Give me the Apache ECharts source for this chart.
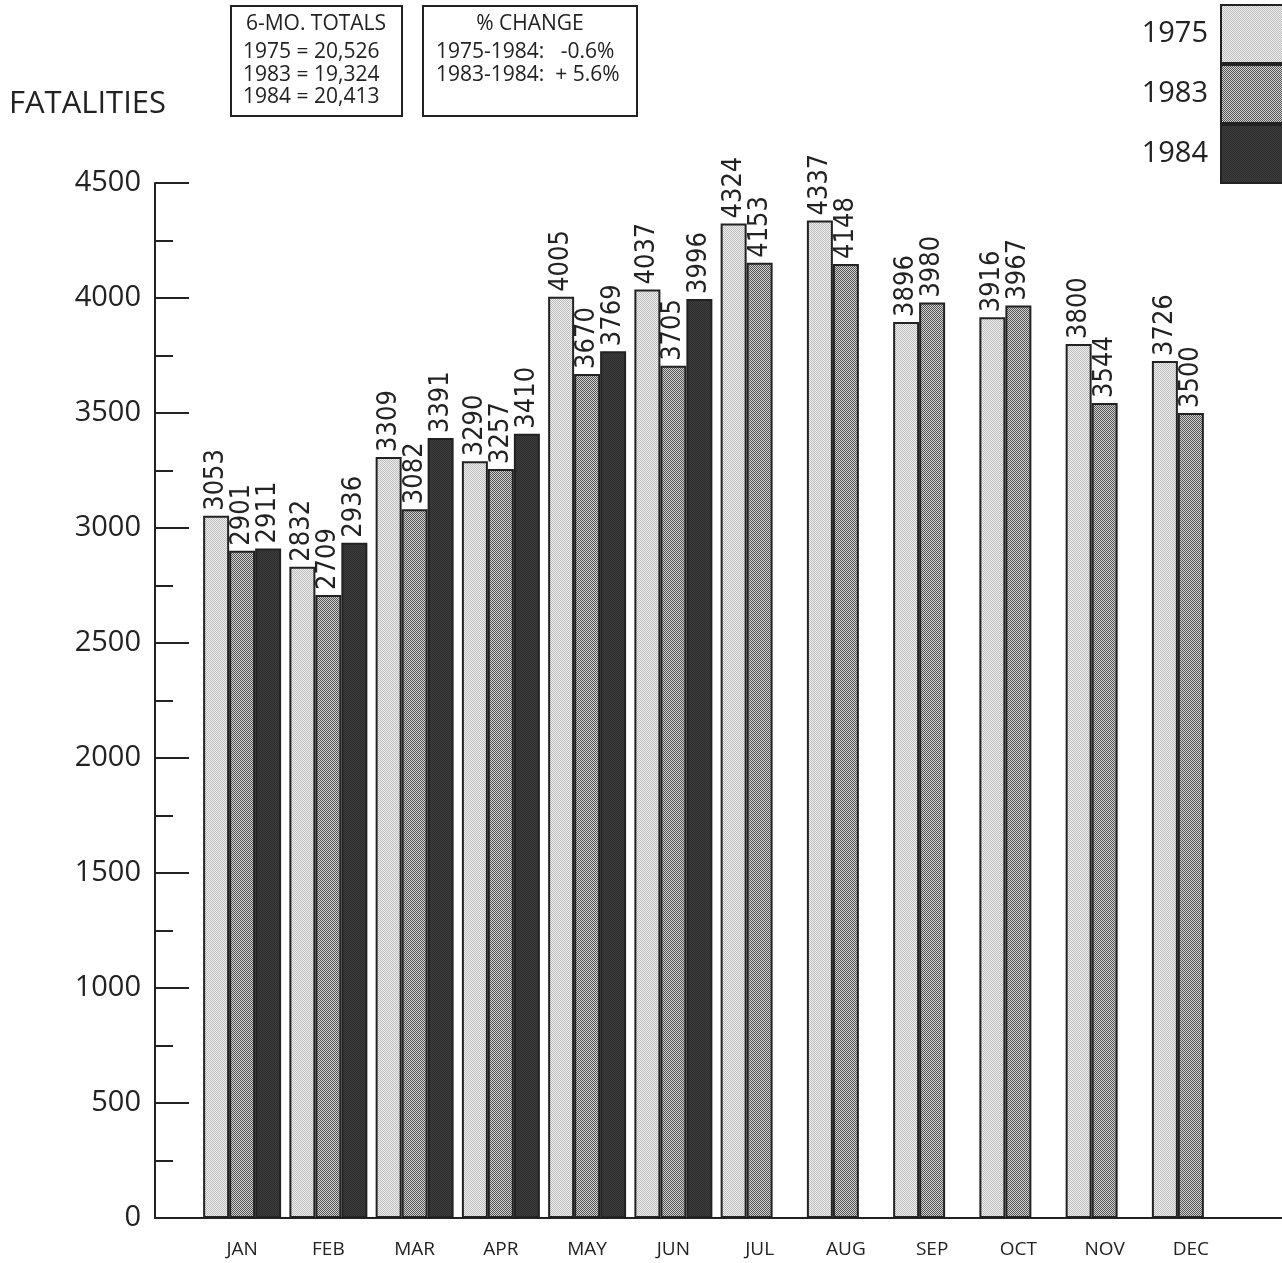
<!DOCTYPE html>
<html>
<head>
<meta charset="utf-8">
<script src="https://cdn.jsdelivr.net/npm/echarts@6/dist/echarts.min.js"></script>
<style>
  html, body { margin: 0; padding: 0; background: #fff; }
  #chart { width: 1282px; height: 1263px; }
</style>
</head>
<body>
<div id="chart"></div>
<script>
// Monthly traffic fatalities, 1975 / 1983 / 1984
const months = ['JAN', 'FEB', 'MAR', 'APR', 'MAY', 'JUN', 'JUL', 'AUG', 'SEP', 'OCT', 'NOV', 'DEC'];
const years = ['1975', '1983', '1984'];
const fatal1975 = [3053, 2832, 3309, 3290, 4005, 4037, 4324, 4337, 3896, 3916, 3800, 3726];
const fatal1983 = [2901, 2709, 3082, 3257, 3670, 3705, 4153, 4148, 3980, 3967, 3544, 3500];
const fatal1984 = [2911, 2936, 3391, 3410, 3769, 3996, null, null, null, null, null, null];
const yTicks = { min: 0, max: 4500, step: 500 };

const totalsLines = ['6-MO. TOTALS', '1975 = 20,526', '1983 = 19,324', '1984 = 20,413'];
const changeLines = ['% CHANGE', '1975-1984:   -0.6%', '1983-1984:  + 5.6%'];

// small checkerboard screens used as bar fills
function screen(a, b) {
  const c = document.createElement('canvas');
  c.width = 2; c.height = 2;
  const g = c.getContext('2d');
  g.fillStyle = a; g.fillRect(0, 0, 2, 2);
  g.fillStyle = b; g.fillRect(0, 0, 1, 1); g.fillRect(1, 1, 1, 1);
  return { image: c, repeat: 'repeat' };
}
const fills = [
  screen('#eeeeee', '#bdbdbd'),
  screen('#d0d0d0', '#555555'),
  screen('#3c3c3c', '#2e2e2e')
];
const ink = '#222222';
const textInk = '#222222';
const seriesData = [fatal1975, fatal1983, fatal1984];
const uiFont = 'Open Sans';

const chart = echarts.init(document.getElementById('chart'), null, { renderer: 'canvas' });

const plotTop = 183, plotBottom = 45;

chart.setOption({
  backgroundColor: '#ffffff',
  animation: false,
  grid: [
    { left: 155, right: 0, top: plotTop, bottom: plotBottom },
    { left: 199, width: 1035, top: plotTop, bottom: plotBottom }
  ],
  xAxis: [
    {
      gridIndex: 0, type: 'value', min: 0, max: 1,
      axisLine: { show: true, lineStyle: { color: ink, width: 2 } },
      axisTick: { show: false }, axisLabel: { show: false }, splitLine: { show: false }
    },
    {
      gridIndex: 1, type: 'category', data: months,
      axisLine: { show: false }, axisTick: { show: false },
      axisLabel: { color: textInk, fontSize: 19, fontFamily: uiFont, margin: 22 }
    }
  ],
  yAxis: [
    {
      gridIndex: 0, type: 'value', min: yTicks.min, max: yTicks.max, interval: yTicks.step,
      axisLine: { show: true, lineStyle: { color: ink, width: 2 } },
      axisTick: { show: true, inside: true, length: 34, lineStyle: { color: ink, width: 2 } },
      minorTick: { show: true, splitNumber: 2, length: 18, lineStyle: { color: ink, width: 2 } },
      axisLabel: {
        color: textInk, fontSize: 29, fontFamily: uiFont, margin: 14,
        formatter: v => String(v)
      },
      splitLine: { show: false }
    },
    {
      gridIndex: 1, type: 'value', min: yTicks.min, max: yTicks.max, show: false
    }
  ],
  legend: {
    orient: 'vertical', right: -2, top: 4, align: 'right',
    icon: 'rect',
    itemWidth: 62, itemHeight: 58, itemGap: 0, padding: 0,
    data: years,
    textStyle: { color: textInk, fontSize: 29, fontFamily: uiFont, padding: [0, 8, 0, 0] },
    itemStyle: { borderColor: ink, borderWidth: 2 }
  },
  series: years.map((y, i) => ({
    name: y,
    type: 'bar',
    xAxisIndex: 1, yAxisIndex: 1,
    data: seriesData[i],
    barGap: '0%',
    barCategoryGap: '9.6%',
    itemStyle: { color: fills[i], borderColor: ink, borderWidth: 2 },
    label: {
      show: true, position: 'top', rotate: 90, align: 'left', verticalAlign: 'middle',
      distance: 5, color: textInk, fontSize: 27,
      fontFamily: '"DejaVu Sans Condensed", "DejaVu Sans", sans-serif'
    }
  })),
  graphic: [
    {
      type: 'text', left: 9, top: 89,
      style: { text: 'FATALITIES', fontSize: 31, fontFamily: uiFont, fill: textInk }
    },
    {
      type: 'rect', shape: { x: 231, y: 6, width: 171, height: 110 },
      style: { fill: 'none', stroke: ink, lineWidth: 2 }
    },
    {
      type: 'text', x: 316, y: 14,
      style: { text: totalsLines[0], fontSize: 21, fontFamily: uiFont, fill: textInk, align: 'center' }
    },
    {
      type: 'text', x: 243, y: 41,
      style: { text: totalsLines.slice(1).join('\n'), fontSize: 21, lineHeight: 22.5, fontFamily: uiFont, fill: textInk }
    },
    {
      type: 'rect', shape: { x: 423, y: 6, width: 214, height: 110 },
      style: { fill: 'none', stroke: ink, lineWidth: 2 }
    },
    {
      type: 'text', x: 530, y: 14,
      style: { text: changeLines[0], fontSize: 21, fontFamily: uiFont, fill: textInk, align: 'center' }
    },
    {
      type: 'text', x: 436, y: 41,
      style: { text: changeLines.slice(1).join('\n'), fontSize: 21, lineHeight: 22.5, fontFamily: uiFont, fill: textInk }
    }
  ]
});
</script>
</body>
</html>
